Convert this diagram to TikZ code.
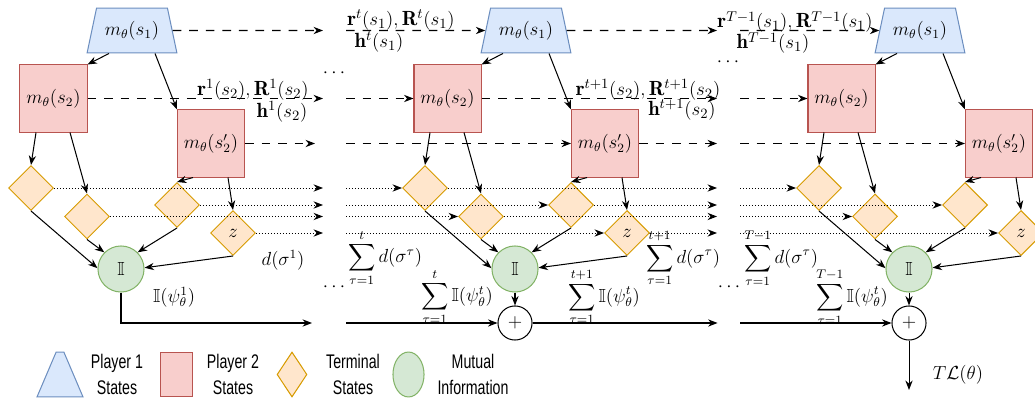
\documentclass[tikz,border=0pt]{standalone}
\usepackage{amssymb}
\usepackage{fontspec}
\newfontfamily\legfont{Liberation Sans}
\usetikzlibrary{shapes.geometric,arrows.meta}
\definecolor{bfill}{HTML}{DAE8FC}\definecolor{bline}{HTML}{6C8EBF}
\definecolor{rfill}{HTML}{F8CECC}\definecolor{rline}{HTML}{B85450}
\definecolor{ofill}{HTML}{FFE6CC}\definecolor{oline}{HTML}{D79B00}
\definecolor{gfill}{HTML}{D5E8D4}\definecolor{gline}{HTML}{82B366}
\def\pxu{0.634pt}
\tikzset{
  pone/.style={trapezium, trapezium angle=69, trapezium stretches=true, minimum width=57pt, minimum height=28.5pt, inner sep=0pt, fill=bfill, draw=bline, line width=0.65pt},
  ptwo/.style={rectangle, minimum size=42.5pt, inner sep=0pt, fill=rfill, draw=rline, line width=0.65pt},
  term/.style={diamond, aspect=1, minimum width=28.5pt, minimum height=28.5pt, inner sep=0pt, fill=ofill, draw=oline, line width=0.65pt},
  mi/.style={circle, minimum size=29.2pt, inner sep=0pt, fill=gfill, draw=gline, line width=0.65pt},
  plusnode/.style={circle, minimum size=21.6pt, inner sep=0pt, fill=white, draw=black, line width=0.65pt},
  arr/.style={-{Stealth[length=6pt,width=4.6pt]}, line width=0.65pt},
  dsh/.style={arr, dash pattern=on 5.5pt off 5pt},
  dotl/.style={arr, line width=0.6pt, dash pattern=on 0.7pt off 1.2pt},
  lab/.style={inner sep=0pt},
  elab/.style={inner sep=0pt, font=\fontsize{13}{15}\selectfont},
  legtext/.style={inner sep=0pt, align=center, xscale=0.72, font=\legfont\fontsize{12.5}{16}\selectfont},
}
\newcommand\blk[2]{%
  \begin{scope}[shift={(#1,0)}]
    \node[pone] (P#2) at (132,30.5) {$m_\theta(s_1)$};
    \node[ptwo] (Q#2) at (53.5,98.5) {$m_\theta(s_2)$};
    \node[ptwo] (R#2) at (211,143.5) {$m_\theta(s_2')$};
    \node[term] (A#2) at (31,188) {};
    \node[term] (B#2) at (87,216.5) {};
    \node[term] (C#2) at (177,205) {};
    \node[term] (D#2) at (233,233) {$z$};
    \node[mi] (I#2) at (121,269) {$\mathbb{I}$};
  \end{scope}
  \draw[arr] ([xshift=-23*\pxu]P#2.south) -- (Q#2.north east);
  \draw[arr] ([xshift=23*\pxu]P#2.south) -- (R#2.north west);
  \draw[arr] ([xshift=-17.5*\pxu]Q#2.south) -- (A#2.north);
  \draw[arr] ([xshift=16.5*\pxu]Q#2.south) -- (B#2.north);
  \draw[arr] ([xshift=-18*\pxu]R#2.south) -- (C#2.north);
  \draw[arr] ([xshift=17*\pxu]R#2.south) -- (D#2.north);
  \draw[arr] (A#2.south) -- (I#2.178);
  \draw[arr] (B#2.south) -- (I#2.135);
  \draw[arr] (C#2.south) -- (I#2.45);
  \draw[arr] (D#2.south) -- (I#2.3);
}
\newcommand\outg[3]{%
  \begin{scope}[shift={(#1,0)}]
    \coordinate (oP#2) at (323,30.5);
    \coordinate (oQ#2) at (323,98.5);
    \coordinate (oR#2) at (#3,143.5);
    \coordinate (oA#2) at (323,188);
    \coordinate (oB#2) at (323,216.5);
    \coordinate (oC#2) at (323,205);
    \coordinate (oD#2) at (323,233);
  \end{scope}
  \draw[dsh] (P#2.east) -- (oP#2);
  \draw[dsh] (Q#2.east) -- (oQ#2);
  \draw[dsh] (R#2.east) -- (oR#2);
  \draw[dotl] (A#2.east) -- (oA#2);
  \draw[dotl] (B#2.east) -- (oB#2);
  \draw[dotl] (C#2.east) -- (oC#2);
  \draw[dotl] (D#2.east) -- (oD#2);
}
\newcommand\inc[2]{%
  \begin{scope}[shift={(#1,0)}]
    \coordinate (iP#2) at (-48,30.5);
    \coordinate (iQ#2) at (-48,98.5);
    \coordinate (iR#2) at (-48,143.5);
    \coordinate (iA#2) at (-48,188);
    \coordinate (iB#2) at (-48,216.5);
    \coordinate (iC#2) at (-48,205);
    \coordinate (iD#2) at (-48,233);
    \coordinate (iS#2) at (-48,323);
    \node[plusnode] (S#2) at (121,323) {$+$};
  \end{scope}
  \draw[dsh] (iP#2) -- (P#2.west);
  \draw[dsh] (iQ#2) -- (Q#2.west);
  \draw[dsh] (iR#2) -- (R#2.west);
  \draw[dotl] (iA#2) -- (A#2.west);
  \draw[dotl] (iB#2) -- (B#2.west);
  \draw[dotl] (iC#2) -- (C#2.west);
  \draw[dotl] (iD#2) -- (D#2.west);
  \draw[arr] (iS#2) -- (S#2.west);
  \draw[arr] (I#2.south) -- (S#2.north);
}
\begin{document}
\begin{tikzpicture}[x=0.634pt, y=-0.634pt, font=\fontsize{12}{14}\selectfont]
\useasboundingbox (0,0) rectangle (1035,400);
\clip (0,0) rectangle (1035,400);
% blocks
\blk{0}{1}
\blk{394}{2}
\blk{788}{3}
\outg{0}{1}{315}
\outg{394}{2}{323}
\inc{394}{2}
\inc{788}{3}
% block 1 bottom
\coordinate (e1) at (312,323);
\draw[arr] (I1.south) |- (e1);
\draw[arr] (S2.east) -- +(185,0) coordinate (e2);
\coordinate (e3) at (909,390);
\draw[arr] (S3.south) -- (e3);
% labels
\node[elab] (l1) at (253,90) {$\mathbf{r}^1(s_2),\mathbf{R}^1(s_2)$};
\node[elab] (l2) at (282,112) {$\mathbf{h}^1(s_2)$};
\node[lab] (l3) at (283,260) {$d(\sigma^1)$};
\node[lab] (l4) at (174,297) {$\mathbb{I}(\psi^1_\theta)$};
\node[lab] (l5) at (334,73) {$\cdots$};
\node[lab] (l6) at (334,287) {$\cdots$};
\node[elab] (l7) at (401,20) {$\mathbf{r}^t(s_1),\mathbf{R}^t(s_1)$};
\node[elab] (l8) at (379,42) {$\mathbf{h}^t(s_1)$};
\node[lab] (l9) at (385,258) {$\displaystyle\sum_{\tau=1}^{t} d(\sigma^\tau)$};
\node[lab] (l10) at (457,297) {$\displaystyle\sum_{\tau=1}^{t}\mathbb{I}(\psi^t_\theta)$};
\node[elab] (l11) at (648,90) {$\mathbf{r}^{t+1}(s_2),\mathbf{R}^{t+1}(s_2)$};
\node[elab] (l12) at (682,110) {$\mathbf{h}^{t+1}(s_2)$};
\node[lab] (l13) at (683,258) {$\displaystyle\sum_{\tau=1}^{t+1} d(\sigma^\tau)$};
\node[lab] (l14) at (604,297) {$\displaystyle\sum_{\tau=1}^{t+1}\mathbb{I}(\psi^t_\theta)$};
\node[lab] (l15) at (728,62) {$\cdots$};
\node[lab] (l16) at (729,287) {$\cdots$};
\node[elab] (l17) at (795,22) {$\mathbf{r}^{T-1}(s_1),\mathbf{R}^{T-1}(s_1)$};
\node[elab] (l18) at (773,43) {$\mathbf{h}^{T-1}(s_1)$};
\node[lab] (l19) at (781,258) {$\displaystyle\sum_{\tau=1}^{T-1} d(\sigma^\tau)$};
\node[lab] (l20) at (852,297) {$\displaystyle\sum_{\tau=1}^{T-1}\mathbb{I}(\psi^t_\theta)$};
\node[lab] (l21) at (958,375) {$T\mathcal{L}(\theta)$};
% legend
\node[trapezium, trapezium angle=72.7, trapezium stretches=true, minimum width=29.2pt, minimum height=28.5pt, inner sep=1pt, fill=bfill, draw=bline, line width=0.65pt] (L1) at (60,374.5) {\strut};
\node[rectangle, minimum width=19.7pt, minimum height=28.5pt, inner sep=0pt, fill=rfill, draw=rline, line width=0.65pt] (L2) at (176.5,374.5) {};
\node[diamond, minimum width=19pt, minimum height=28.5pt, inner sep=0pt, fill=ofill, draw=oline, line width=0.65pt] (L3) at (292,374.5) {};
\node[ellipse, minimum width=19.7pt, minimum height=28.5pt, inner sep=0pt, fill=gfill, draw=gline, line width=0.65pt] (L4) at (408.5,374.5) {};
\node[legtext] (T1) at (117,374.5) {Player 1\\States};
\node[legtext] (T2) at (233,374.5) {Player 2\\States};
\node[legtext] (T3) at (353,374.5) {Terminal\\States};
\node[legtext] (T4) at (473,374.5) {Mutual\\Information};
\end{tikzpicture}
\end{document}
